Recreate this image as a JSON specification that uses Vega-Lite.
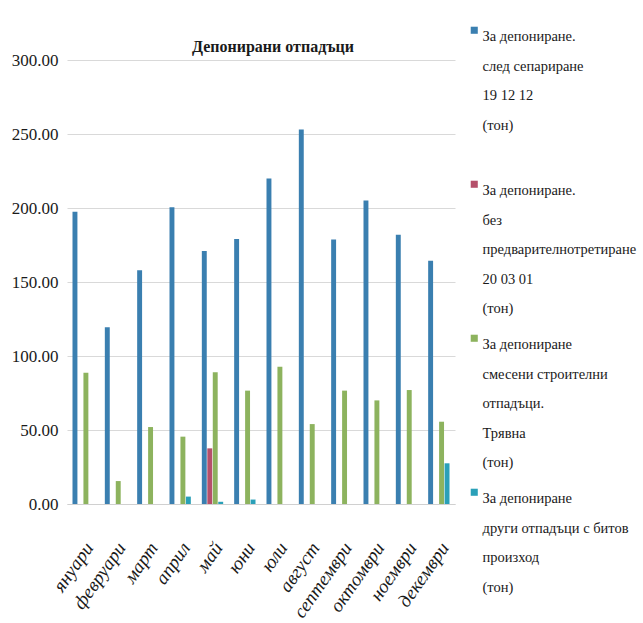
{
  "$schema": "https://vega.github.io/schema/vega-lite/v6.json",
  "autosize": {"type": "none"},
  "padding": {"left": 67, "top": 60, "right": 188, "bottom": 119},
  "width": 388,
  "height": 444,
  "background": "white",
  "title": {
    "text": "Депонирани отпадъци",
    "font": "Liberation Serif",
    "fontSize": 16,
    "fontWeight": "bold",
    "color": "#1a1a1a",
    "anchor": "middle",
    "offset": 6,
    "dx": 12,
    "dy": 38
  },
  "config": {
    "view": {"stroke": null},
    "font": "Liberation Serif"
  },
  "data": {
    "values": [
      {"month": "януари", "series": "A", "value": 197.5},
      {"month": "януари", "series": "B", "value": 0},
      {"month": "януари", "series": "C", "value": 88.7},
      {"month": "януари", "series": "D", "value": 0},
      {"month": "февруари", "series": "A", "value": 119.4},
      {"month": "февруари", "series": "B", "value": 0},
      {"month": "февруари", "series": "C", "value": 15.5},
      {"month": "февруари", "series": "D", "value": 0},
      {"month": "март", "series": "A", "value": 158},
      {"month": "март", "series": "B", "value": 0},
      {"month": "март", "series": "C", "value": 52},
      {"month": "март", "series": "D", "value": 0},
      {"month": "април", "series": "A", "value": 200.5},
      {"month": "април", "series": "B", "value": 0},
      {"month": "април", "series": "C", "value": 45.5},
      {"month": "април", "series": "D", "value": 5},
      {"month": "май", "series": "A", "value": 171},
      {"month": "май", "series": "B", "value": 37.6},
      {"month": "май", "series": "C", "value": 89},
      {"month": "май", "series": "D", "value": 1.5},
      {"month": "юни", "series": "A", "value": 179},
      {"month": "юни", "series": "B", "value": 0},
      {"month": "юни", "series": "C", "value": 76.6},
      {"month": "юни", "series": "D", "value": 3},
      {"month": "юли", "series": "A", "value": 220},
      {"month": "юли", "series": "B", "value": 0},
      {"month": "юли", "series": "C", "value": 92.8},
      {"month": "юли", "series": "D", "value": 0},
      {"month": "август", "series": "A", "value": 253},
      {"month": "август", "series": "B", "value": 0},
      {"month": "август", "series": "C", "value": 54},
      {"month": "август", "series": "D", "value": 0},
      {"month": "септември", "series": "A", "value": 178.8},
      {"month": "септември", "series": "B", "value": 0},
      {"month": "септември", "series": "C", "value": 76.6},
      {"month": "септември", "series": "D", "value": 0},
      {"month": "октомври", "series": "A", "value": 205},
      {"month": "октомври", "series": "B", "value": 0},
      {"month": "октомври", "series": "C", "value": 70},
      {"month": "октомври", "series": "D", "value": 0},
      {"month": "ноември", "series": "A", "value": 182},
      {"month": "ноември", "series": "B", "value": 0},
      {"month": "ноември", "series": "C", "value": 77},
      {"month": "ноември", "series": "D", "value": 0},
      {"month": "декември", "series": "A", "value": 164.4},
      {"month": "декември", "series": "B", "value": 0},
      {"month": "декември", "series": "C", "value": 55.6},
      {"month": "декември", "series": "D", "value": 27.5}
    ]
  },
  "mark": {"type": "bar"},
  "encoding": {
    "x": {
      "field": "month",
      "type": "nominal",
      "sort": null,
      "scale": {"paddingInner": 0.34, "paddingOuter": 0.17},
      "axis": {
        "title": null,
        "labelAngle": -55,
        "labelAlign": "right",
        "labelBaseline": "middle",
        "labelPadding": 40,
        "labelOffset": 6,
        "labelFont": "Liberation Serif",
        "labelFontStyle": "italic",
        "labelFontSize": 19,
        "labelColor": "#1a1a1a",
        "ticks": false,
        "domainColor": "#d0d0d0",
        "grid": false
      }
    },
    "xOffset": {
      "field": "series",
      "type": "nominal",
      "scale": {"paddingInner": 0.1, "domain": ["A", "B", "C", "D"]}
    },
    "y": {
      "field": "value",
      "type": "quantitative",
      "scale": {"domain": [0, 300], "nice": false},
      "axis": {
        "title": null,
        "values": [0, 50, 100, 150, 200, 250, 300],
        "format": ".2f",
        "labelFont": "Liberation Serif",
        "labelFontSize": 17,
        "labelColor": "#1a1a1a",
        "labelPadding": 9,
        "ticks": false,
        "domain": false,
        "gridColor": "#d9d9d9"
      }
    },
    "color": {
      "field": "series",
      "type": "nominal",
      "scale": {
        "domain": ["A", "B", "C", "D"],
        "range": ["#3a7fb0", "#b5506a", "#8db35e", "#2aa0b8"]
      },
      "legend": {
        "title": null,
        "orient": "none",
        "legendX": 400,
        "legendY": -37,
        "padding": 0,
        "symbolType": "square",
        "symbolSize": 50,
        "symbolStrokeWidth": 0,
        "labelFont": "Liberation Serif",
        "labelFontStyle": "normal",
        "labelFontSize": 14.5,
        "labelColor": "#1a1a1a",
        "labelBaseline": "top",
        "labelLimit": 200,
        "labelOffset": 1,
        "rowPadding": 15,
        "labelExpr": "datum.value === 'A' ? ['За депониране.', 'след сепариране', '19 12 12', '(тон)', ' '] : datum.value === 'B' ? ['За депониране.', 'без', 'предварителнотретиране', '20 03 01', '(тон)'] : datum.value === 'C' ? ['За депониране', 'смесени строителни', 'отпадъци.', 'Трявна', '(тон)'] : ['За депониране', 'други отпадъци с битов', 'произход', '(тон)']",
        "encode": {
          "symbols": {
            "update": {
              "fill": {"signal": "datum.value === 'D' ? '#8b9bd0' : scale('color', datum.value)"}
            }
          },
          "labels": {
            "update": {
              "lineHeight": {"value": 29.5}
            }
          }
        }
      }
    }
  }
}
